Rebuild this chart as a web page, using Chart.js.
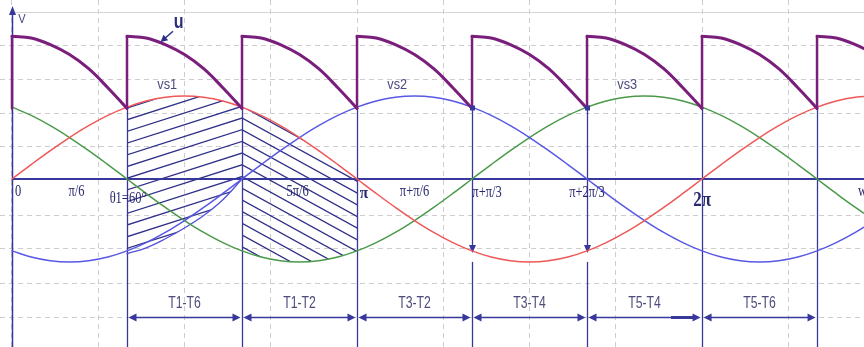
<!DOCTYPE html>
<html>
<head>
<meta charset="utf-8">
<script src="https://cdn.jsdelivr.net/npm/chart.js@4.4.1/dist/chart.umd.min.js"></script>
<style>
  html, body { margin: 0; padding: 0; background: #fff; overflow: hidden; }
  canvas { display: block; }
</style>
</head>
<body>
<canvas id="c" width="864" height="347"></canvas>
<script>
// Electrical angle ωt in degrees, sampled every 10°
const angles = [0,10,20,30,40,50,60,70,80,90,100,110,120,130,140,150,160,170,180,190,200,210,220,230,
  240,250,260,270,280,290,300,310,320,330,340,350,360,370,380,390,400,410,420,430,440,450];

// Phase voltages (per unit of peak)
const vs1 = [0,.174,.342,.5,.643,.766,.866,.94,.985,1,.985,.94,.866,.766,.643,.5,.342,.174,
  0,-.174,-.342,-.5,-.643,-.766,-.866,-.94,-.985,-1,-.985,-.94,-.866,-.766,-.643,-.5,-.342,-.174,
  0,.174,.342,.5,.643,.766,.866,.94,.985,1];
const vs2 = [-.866,-.94,-.985,-1,-.985,-.94,-.866,-.766,-.643,-.5,-.342,-.174,
  0,.174,.342,.5,.643,.766,.866,.94,.985,1,.985,.94,.866,.766,.643,.5,.342,.174,
  0,-.174,-.342,-.5,-.643,-.766,-.866,-.94,-.985,-1,-.985,-.94,-.866,-.766,-.643,-.5];
const vs3 = [.866,.766,.643,.5,.342,.174,
  0,-.174,-.342,-.5,-.643,-.766,-.866,-.94,-.985,-1,-.985,-.94,-.866,-.766,-.643,-.5,-.342,-.174,
  0,.174,.342,.5,.643,.766,.866,.94,.985,1,.985,.94,.866,.766,.643,.5,.342,.174,
  0,-.174,-.342,-.5];

// One pulse of the rectified output u, at 0..60° after each commutation
const uPulseOffsets = [0,10,20,30,40,50,60];
const uPulse = [1.72,1.70,1.62,1.50,1.33,1.10,0.85];
const uPulseStarts = [0,60,120,180,240,300,360,420];

// Lower edge of the first shaded conduction area
const shadeAngles = [60,70,80,90,100,110,120];
const shadeLower = [-0.90,-0.83,-0.72,-0.59,-0.44,-0.25,0];

// Axis annotations
const xTickLabels = ['0','π/6','θ1=60°','5π/6','π','π+π/6','π+π/3','π+2π/3','2π'];
const xTickAngles = [0,30,60,150,180,210,240,300,360];
const intervalBounds = [60,120,180,240,300,360,420];
const intervalLabels = ['T1-T6','T1-T2','T3-T2','T3-T4','T5-T4','T5-T6'];
const phaseNames = ['vs1','vs2','vs3'];
const phasePeakAngles = [90,210,330];

// Grid positions
const gridAngles = [0,45,90,135,180,225,270,315,360,405];
const gridLevels = [1.614,1.205,0.795,0.386,-0.434,-0.843,-1.253,-1.663];

const X_MIN = -6.26, X_MAX = 444.5, Y_MIN = -2.024, Y_MAX = 2.157;
const NAVY = '#38389c';
const U_COLOR = '#7a1e7c';

const idx = a => angles.indexOf(a);
const series = arr => angles.map((a, i) => ({ x: a, y: arr[i] }));

function drawText(ctx, s, x, y, font, color, sx, align) {
  ctx.save();
  ctx.font = font;
  ctx.fillStyle = color;
  ctx.textBaseline = 'middle';
  ctx.textAlign = 'left';
  const w = ctx.measureText(s).width * sx;
  const left = align === 'left' ? x : align === 'right' ? x - w : x - w / 2;
  ctx.translate(left, y);
  ctx.scale(sx, 1);
  ctx.fillText(s, 0, 0);
  ctx.restore();
}

function arrowHead(ctx, tx, ty, dx, dy, len, half) {
  const bx = tx - dx * len, by = ty - dy * len;
  ctx.beginPath();
  ctx.moveTo(tx, ty);
  ctx.lineTo(bx - dy * half, by + dx * half);
  ctx.lineTo(bx + dy * half, by - dx * half);
  ctx.closePath();
  ctx.fill();
}

function line(ctx, x0, y0, x1, y1) {
  ctx.beginPath();
  ctx.moveTo(x0, y0);
  ctx.lineTo(x1, y1);
  ctx.stroke();
}

// Parallel hatch lines y = refY + k*gap + slope*(x - refX), clipped to a polygon
function hatch(ctx, poly, refX, refY, slope, gap) {
  ctx.save();
  ctx.beginPath();
  poly.forEach((p, i) => i ? ctx.lineTo(p[0], p[1]) : ctx.moveTo(p[0], p[1]));
  ctx.closePath();
  ctx.clip();
  const xs = poly.map(p => p[0]), ys = poly.map(p => p[1]);
  const x0 = Math.min(...xs) - 2, x1 = Math.max(...xs) + 2;
  const y0 = Math.min(...ys) - 2, y1 = Math.max(...ys) + 2;
  let kMin = Infinity, kMax = -Infinity;
  [[x0, y0], [x0, y1], [x1, y0], [x1, y1]].forEach(([x, y]) => {
    const k = (y - refY - slope * (x - refX)) / gap;
    kMin = Math.min(kMin, k); kMax = Math.max(kMax, k);
  });
  ctx.strokeStyle = '#30308a';
  ctx.lineWidth = 1.3;
  ctx.beginPath();
  for (let k = Math.floor(kMin); k <= Math.ceil(kMax); k++) {
    ctx.moveTo(x0, refY + k * gap + slope * (x0 - refX));
    ctx.lineTo(x1, refY + k * gap + slope * (x1 - refX));
  }
  ctx.stroke();
  ctx.restore();
}

const decor = {
  id: 'waveDecor',
  beforeDatasetsDraw(chart) {
    const { ctx, chartArea: ca, scales: { x: sx, y: sy } } = chart;
    const X = v => sx.getPixelForValue(v), Y = v => sy.getPixelForValue(v);
    ctx.save();

    // light top border
    ctx.strokeStyle = '#d4d4d4';
    ctx.lineWidth = 1;
    const yTop = Math.round(Y(2.012)) + 0.5;
    line(ctx, X(0), yTop, ca.right, yTop);

    // shaded conduction areas
    const pts = (arr, a0, a1) => angles.filter(a => a >= a0 && a <= a1).map(a => [X(a), Y(arr[idx(a)])]);
    const poly1 = pts(vs1, 60, 120).concat(shadeAngles.map((a, i) => [X(a), Y(shadeLower[i])]).reverse());
    const poly2 = pts(vs1, 120, 180).concat(pts(vs3, 120, 180).reverse());
    const refX = X(120), refY = Y(0.735);
    hatch(ctx, poly1, refX, refY, -0.32, 11.7);
    hatch(ctx, poly2, refX, refY, 0.55, 11.7);

    // commutation instants
    ctx.strokeStyle = NAVY;
    ctx.fillStyle = NAVY;
    ctx.lineWidth = 1.3;
    const uLow = Y(uPulse[uPulse.length - 1]);
    intervalBounds.forEach(a => {
      const x = Math.round(X(a)) + 0.5;
      if (a === 240 || a === 300) {
        const yt = Y(vs1[idx(a)]) + 2;
        line(ctx, x, uLow, x, yt - 6);
        arrowHead(ctx, x, yt, 0, 1, 8, 3.5);
        line(ctx, x, yt + 9, x, ca.bottom);
      } else {
        line(ctx, x, uLow, x, ca.bottom);
      }
    });

    // axes
    const x0 = Math.round(X(0)) + 0.5;
    ctx.lineWidth = 2;
    line(ctx, x0, Y(0), ca.right, Y(0));
    ctx.lineWidth = 1.5;
    line(ctx, x0, ca.bottom, x0, 12);
    arrowHead(ctx, x0, 6, 0, -1, 9, 3.5);

    // conduction intervals
    const yA = Math.round(Y(-1.663)) + 0.5;
    ctx.lineWidth = 1.5;
    for (let i = 0; i < intervalLabels.length; i++) {
      const xa = X(intervalBounds[i]) + 1.5, xb = X(intervalBounds[i + 1]) - 1.5;
      line(ctx, xa + 6, yA, xb - 6, yA);
      arrowHead(ctx, xa, yA, -1, 0, 8, 4);
      arrowHead(ctx, xb, yA, 1, 0, 8, 4);
    }
    ctx.lineWidth = 3;
    line(ctx, X(360) - 31, yA, X(360) - 9, yA);
    ctx.restore();
  },
  afterDatasetsDraw(chart) {
    const { ctx, chartArea: ca, scales: { x: sx, y: sy } } = chart;
    const X = v => sx.getPixelForValue(v), Y = v => sy.getPixelForValue(v);
    ctx.save();
    ctx.fillStyle = NAVY;
    const uLow = Y(uPulse[uPulse.length - 1]);
    [240, 300].forEach(a => ctx.fillRect(Math.round(X(a)) - 2, uLow - 3, 5, 5));

    // angle labels along the ωt axis
    const serif = '"Liberation Serif", "DejaVu Serif", serif';
    const dx = [6, 7, 1, -2, 7, 0, 15, 0, 0];
    const dy = [13, 13, 20, 13, 15, 13, 14, 14, 22];
    const y0 = Y(0);
    xTickLabels.forEach((t, i) => {
      let font = '16px ' + serif, sxf = 0.78;
      if (t === 'π') { font = 'bold 17px ' + serif; sxf = 0.9; }
      if (t === '2π') { font = 'bold 20px ' + serif; sxf = 0.85; }
      drawText(ctx, t, X(xTickAngles[i]) + dx[i], y0 + dy[i], font, '#28286e', sxf, 'center');
    });
    drawText(ctx, 'wt', ca.right - 6, y0 + 13, '16px ' + serif, '#28286e', 0.78, 'left');

    // phase names
    const sans = '"Liberation Sans", Arial, sans-serif';
    phaseNames.forEach((n, i) => {
      const a = phasePeakAngles[i];
      drawText(ctx, n, X(a - 9), Y(1) - 11, '15px ' + sans, '#4a4a80', 0.85, 'center');
    });

    // interval labels
    for (let i = 0; i < intervalLabels.length; i++) {
      const xm = (X(intervalBounds[i]) + X(intervalBounds[i + 1])) / 2;
      drawText(ctx, intervalLabels[i], xm, Y(-1.494), '17px ' + sans, '#4c4c7c', 0.72, 'center');
    }

    // axis name and output label
    drawText(ctx, 'V', X(0) + 10, Y(1.92), '13px ' + sans, '#4a4a80', 0.85, 'center');
    drawText(ctx, 'u', X(87), Y(1.89), 'bold 20px ' + sans, '#2e2e7e', 0.8, 'center');
    ctx.strokeStyle = '#2e2e8a';
    ctx.fillStyle = '#2e2e8a';
    ctx.lineWidth = 1.5;
    const ax0 = X(84), ay0 = Y(1.78), ax1 = X(77.5), ay1 = Y(1.65);
    const len = Math.hypot(ax1 - ax0, ay1 - ay0);
    const ux = (ax1 - ax0) / len, uy = (ay1 - ay0) / len;
    line(ctx, ax0, ay0, ax1 - ux * 5, ay1 - uy * 5);
    arrowHead(ctx, ax1, ay1, ux, uy, 7, 3.5);
    ctx.restore();
  }
};

const pulseSets = uPulseStarts.map(s => ({
  label: 'u',
  data: uPulseOffsets.map((o, i) => ({ x: s + o, y: uPulse[i] })),
  borderColor: U_COLOR,
  borderWidth: 3,
  tension: 0.4
}));
const jumpSet = {
  label: 'u jumps',
  data: uPulseStarts.flatMap(s => [{ x: s, y: uPulse[uPulse.length - 1] }, { x: s, y: uPulse[0] }, { x: s, y: null }]),
  borderColor: U_COLOR,
  borderWidth: 2.5,
  tension: 0,
  spanGaps: false
};
const phaseSet = (label, arr, color) => ({
  label, data: series(arr), borderColor: color, borderWidth: 1.5, tension: 0.4
});

new Chart(document.getElementById('c'), {
  type: 'line',
  data: {
    datasets: [
      ...pulseSets,
      jumpSet,
      phaseSet('vs1', vs1, '#ee5858'),
      phaseSet('vs2', vs2, '#5858e4'),
      phaseSet('vs3', vs3, '#4a9a4a'),
      {
        label: 'shade edge',
        data: shadeAngles.map((a, i) => ({ x: a, y: shadeLower[i] })),
        borderColor: '#5050d8', borderWidth: 1.3, tension: 0.4
      }
    ]
  },
  options: {
    responsive: false,
    animation: false,
    devicePixelRatio: 1,
    layout: { padding: 0 },
    plugins: { legend: { display: false }, tooltip: { enabled: false } },
    elements: { point: { radius: 0 }, line: { borderCapStyle: 'round', borderJoinStyle: 'round' } },
    scales: {
      x: {
        type: 'linear', min: X_MIN, max: X_MAX,
        ticks: { display: false },
        grid: { color: '#cdcdcd', lineWidth: 1, drawTicks: false },
        border: { display: false, dash: [5, 4] },
        afterBuildTicks: s => { s.ticks = gridAngles.map(v => ({ value: v })); }
      },
      y: {
        type: 'linear', min: Y_MIN, max: Y_MAX,
        ticks: { display: false },
        grid: { color: '#cdcdcd', lineWidth: 1, drawTicks: false },
        border: { display: false, dash: [5, 4] },
        afterBuildTicks: s => { s.ticks = gridLevels.map(v => ({ value: v })); }
      }
    }
  },
  plugins: [decor]
});
</script>
</body>
</html>
